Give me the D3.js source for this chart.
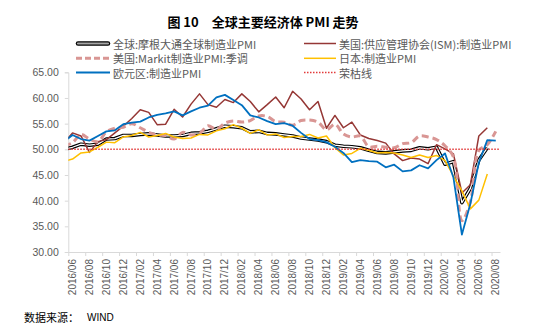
<!DOCTYPE html>
<html>
<head>
<meta charset="utf-8">
<script src="https://cdn.jsdelivr.net/npm/d3@7"></script>
<style>
  body { margin: 0; background: #fff; }
  text { font-family: "Liberation Sans", Arial, "Noto Sans CJK SC", sans-serif; }
  .cjk { font-family: "Noto Sans CJK SC", "Liberation Sans", sans-serif; }
</style>
</head>
<body>
<svg id="chart" width="550" height="335"></svg>
<script>
// x tick labels, one every two months
var tickLabels = ["2016/06", "2016/08", "2016/10", "2016/12", "2017/02", "2017/04", "2017/06",
    "2017/08", "2017/10", "2017/12", "2018/02", "2018/04", "2018/06", "2018/08", "2018/10",
    "2018/12", "2019/02", "2019/04", "2019/06", "2019/08", "2019/10", "2019/12", "2020/02",
    "2020/04", "2020/06", "2020/08"];
var yTicks = [30, 35, 40, 45, 50, 55, 60, 65];

// monthly values, 2016/05 .. 2020/08 (first month sits just left of the axis and gets clipped)
var globalPmi = [50.0, 50.4, 51.0, 50.8, 51.0, 52.0, 52.1, 52.7,
    52.7, 52.9, 53.0, 52.8, 52.6, 52.6, 52.7, 53.1, 53.2, 53.5, 54.0, 54.5,
    54.4, 54.2, 53.4, 53.5, 53.1, 53.0, 52.8, 52.6, 52.2, 52.0, 51.8, 51.5,
    50.8, 50.6, 50.5, 50.3, 49.8, 49.4, 49.3, 49.5, 49.7, 49.8, 50.3, 50.1,
    50.4, 47.1, 47.6, 39.6, 42.4, 47.9, 50.3, null];
var ismPmi = [51.3, 53.2, 52.6, 49.4, 51.5, 51.9, 53.2, 54.5,
    56.0, 57.7, 57.2, 54.8, 54.9, 57.8, 56.3, 58.8, 60.8, 58.7, 58.2, 59.7,
    59.1, 60.8, 59.3, 57.3, 58.7, 60.2, 58.1, 61.3, 59.8, 57.7, 59.3, 54.1,
    56.6, 54.2, 55.3, 52.8, 52.1, 51.7, 51.2, 49.1, 47.8, 48.3, 48.1, 47.2,
    50.9, 50.1, 49.1, 41.5, 43.1, 52.6, 54.2, null];
var markitPmi = [50.7, 51.3, 52.9, 52.0, 51.5, 53.4, 54.1, 54.3,
    55.0, 54.2, 53.3, 52.8, 52.7, 52.0, 53.3, 52.8, 53.1, 54.6, 53.9, 55.1,
    55.5, 55.3, 55.6, 56.5, 56.4, 55.4, 55.3, 54.7, 55.6, 55.7, 55.3, 53.8,
    54.9, 53.0, 52.4, 52.6, 50.5, 50.6, 50.4, 50.3, 51.1, 51.3, 52.6, 52.4,
    51.9, 50.7, 48.5, 36.1, 39.8, 49.8, 50.9, 53.5];
var japanPmi = [47.7, 48.1, 49.3, 49.5, 50.4, 51.4, 51.3, 52.4,
    52.7, 53.3, 52.4, 52.7, 53.1, 52.4, 52.1, 52.2, 52.9, 52.8, 53.6, 54.0,
    54.8, 54.1, 53.1, 53.8, 52.8, 53.0, 52.3, 52.5, 52.5, 52.9, 52.2, 52.6,
    50.3, 48.9, 49.2, 50.2, 49.8, 49.3, 49.4, 49.3, 48.9, 48.4, 48.9, 48.4,
    48.8, 47.8, 44.8, 41.9, 38.4, 40.1, 45.2, null];
var euroPmi = [51.5, 52.8, 52.0, 51.7, 52.6, 53.5, 53.7, 54.9,
    55.2, 55.4, 56.2, 56.7, 57.0, 57.4, 56.6, 57.4, 58.1, 58.5, 60.1, 60.6,
    59.6, 58.6, 56.6, 56.2, 55.5, 54.9, 55.1, 54.6, 53.2, 52.0, 51.8, 51.4,
    50.5, 49.3, 47.5, 47.9, 47.7, 47.6, 46.5, 47.0, 45.7, 45.9, 46.9, 46.3,
    47.9, 49.2, 44.5, 33.4, 39.4, 47.4, 51.8, 51.7];
var boomLine = 50;

var svg = d3.select("#chart");

var plotLeft = 68.3, plotRight = 500, plotTop = 72.3, plotBottom = 252;
var nMonths = 51; // 2016/06 .. 2020/08

// month index 0 = 2016/06, -1 = 2016/05
var x = d3.scaleLinear().domain([-0.5, nMonths - 0.5]).range([plotLeft, plotRight]);
var y = d3.scaleLinear().domain([30, 65]).range([plotBottom, plotTop]);

svg.append("text")
    .attr("class", "cjk")
    .attr("x", 263).attr("y", 21)
    .attr("text-anchor", "middle")
    .attr("dominant-baseline", "central")
    .style("font-size", "13px").style("font-weight", "bold")
    .text("图 10\u3000全球主要经济体 PMI 走势");

// y axis
var yAxis = svg.append("g")
    .attr("transform", "translate(" + plotLeft + ",0)")
    .call(d3.axisLeft(y).tickValues(yTicks).tickSize(3.5).tickPadding(6)
        .tickFormat(function(d) { return d.toFixed(2); }));
yAxis.selectAll("line, path").attr("stroke", "#d9d9d9");
yAxis.selectAll("text").attr("fill", "#595959").style("font-size", "10.5px")
    .style("font-family", "'Liberation Sans', Arial, sans-serif");

// x axis, ticks between category pairs
var tickPos = d3.range(0, nMonths + 1, 2).map(function(i) { return i - 0.5; });
var xAxis = svg.append("g")
    .attr("transform", "translate(0," + plotBottom + ")")
    .call(d3.axisBottom(x).tickValues(tickPos).tickSize(4).tickSizeOuter(0).tickFormat(""));
xAxis.selectAll("line, path").attr("stroke", "#d9d9d9");

svg.append("g").selectAll("text")
    .data(tickLabels)
    .join("text")
    .attr("transform", function(d, i) { return "translate(" + x(i * 2) + ",259) rotate(-90)"; })
    .attr("text-anchor", "end")
    .attr("dominant-baseline", "central")
    .attr("fill", "#595959")
    .style("font-size", "10px")
    .text(function(d) { return d; });

svg.append("clipPath").attr("id", "plotClip")
    .append("rect")
    .attr("x", plotLeft).attr("y", 40)
    .attr("width", plotRight - plotLeft + 2).attr("height", 220);

var plot = svg.append("g").attr("clip-path", "url(#plotClip)");

function monthLine(curve) {
    return d3.line()
        .defined(function(d) { return d != null; })
        .x(function(d, i) { return x(i - 1); })
        .y(function(d) { return y(d); })
        .curve(curve || d3.curveLinear);
}

function addSeries(data, color, width, dash, curve) {
    var p = plot.append("path")
        .datum(data)
        .attr("d", monthLine(curve))
        .attr("fill", "none")
        .attr("stroke", color)
        .attr("stroke-width", width)
        .attr("stroke-linejoin", "round");
    if (dash) p.attr("stroke-dasharray", dash);
    return p;
}

// global: black outline with white core
addSeries(globalPmi, "#000", 3.6);
addSeries(globalPmi, "#fff", 1.3);
addSeries(ismPmi, "#953735", 1.5);
addSeries(markitPmi, "#d99694", 3, "7,4", d3.curveCatmullRom);
addSeries(japanPmi, "#ffc000", 1.5);
addSeries(euroPmi, "#0070c0", 1.8);

plot.append("line")
    .attr("x1", plotLeft).attr("x2", plotRight)
    .attr("y1", y(boomLine)).attr("y2", y(boomLine))
    .attr("stroke", "#e23a3a")
    .attr("stroke-width", 1.5)
    .attr("stroke-dasharray", "1.5,1.5");

// legend
var legendItems = [
    { label: "全球:摩根大通全球制造业PMI", col: 0, row: 0, kind: "global" },
    { label: "美国:供应管理协会(ISM):制造业PMI", col: 1, row: 0, color: "#953735", width: 1.5 },
    { label: "美国:Markit制造业PMI:季调", col: 0, row: 1, color: "#d99694", width: 3, dash: "6,3" },
    { label: "日本:制造业PMI", col: 1, row: 1, color: "#ffc000", width: 1.5 },
    { label: "欧元区:制造业PMI", col: 0, row: 2, color: "#0070c0", width: 2 },
    { label: "荣枯线", col: 1, row: 2, color: "#e23a3a", width: 1.5, dash: "1.5,1.5" }
];
var colX = [76, 304];
var rowY = [43.5, 58.3, 72.5];

var legend = svg.append("g");
legendItems.forEach(function(it) {
    var lx = colX[it.col], ly = rowY[it.row];
    var lw = it.col === 0 ? 34 : 32;
    if (it.kind === "global") {
        legend.append("line").attr("x1", lx + 2).attr("x2", lx + lw - 2)
            .attr("y1", ly).attr("y2", ly)
            .attr("stroke", "#000").attr("stroke-width", 4.5).attr("stroke-linecap", "round");
        legend.append("line").attr("x1", lx + 2).attr("x2", lx + lw - 2)
            .attr("y1", ly).attr("y2", ly)
            .attr("stroke", "#a6a6a6").attr("stroke-width", 2.2).attr("stroke-linecap", "round");
    } else {
        var l = legend.append("line").attr("x1", lx).attr("x2", lx + lw)
            .attr("y1", ly).attr("y2", ly)
            .attr("stroke", it.color).attr("stroke-width", it.width);
        if (it.dash) l.attr("stroke-dasharray", it.dash);
    }
    legend.append("text")
        .attr("class", "cjk")
        .attr("x", lx + lw + 3).attr("y", ly)
        .attr("dominant-baseline", "central")
        .attr("fill", "#595959")
        .style("font-size", "11px")
        .text(it.label);
});

svg.append("text")
    .attr("class", "cjk")
    .attr("x", 24).attr("y", 317)
    .attr("dominant-baseline", "central")
    .style("font-size", "11px")
    .text("数据来源：");
svg.append("text")
    .attr("x", 87).attr("y", 317)
    .attr("dominant-baseline", "central")
    .style("font-size", "10px")
    .text("WIND");
</script>
</body>
</html>
